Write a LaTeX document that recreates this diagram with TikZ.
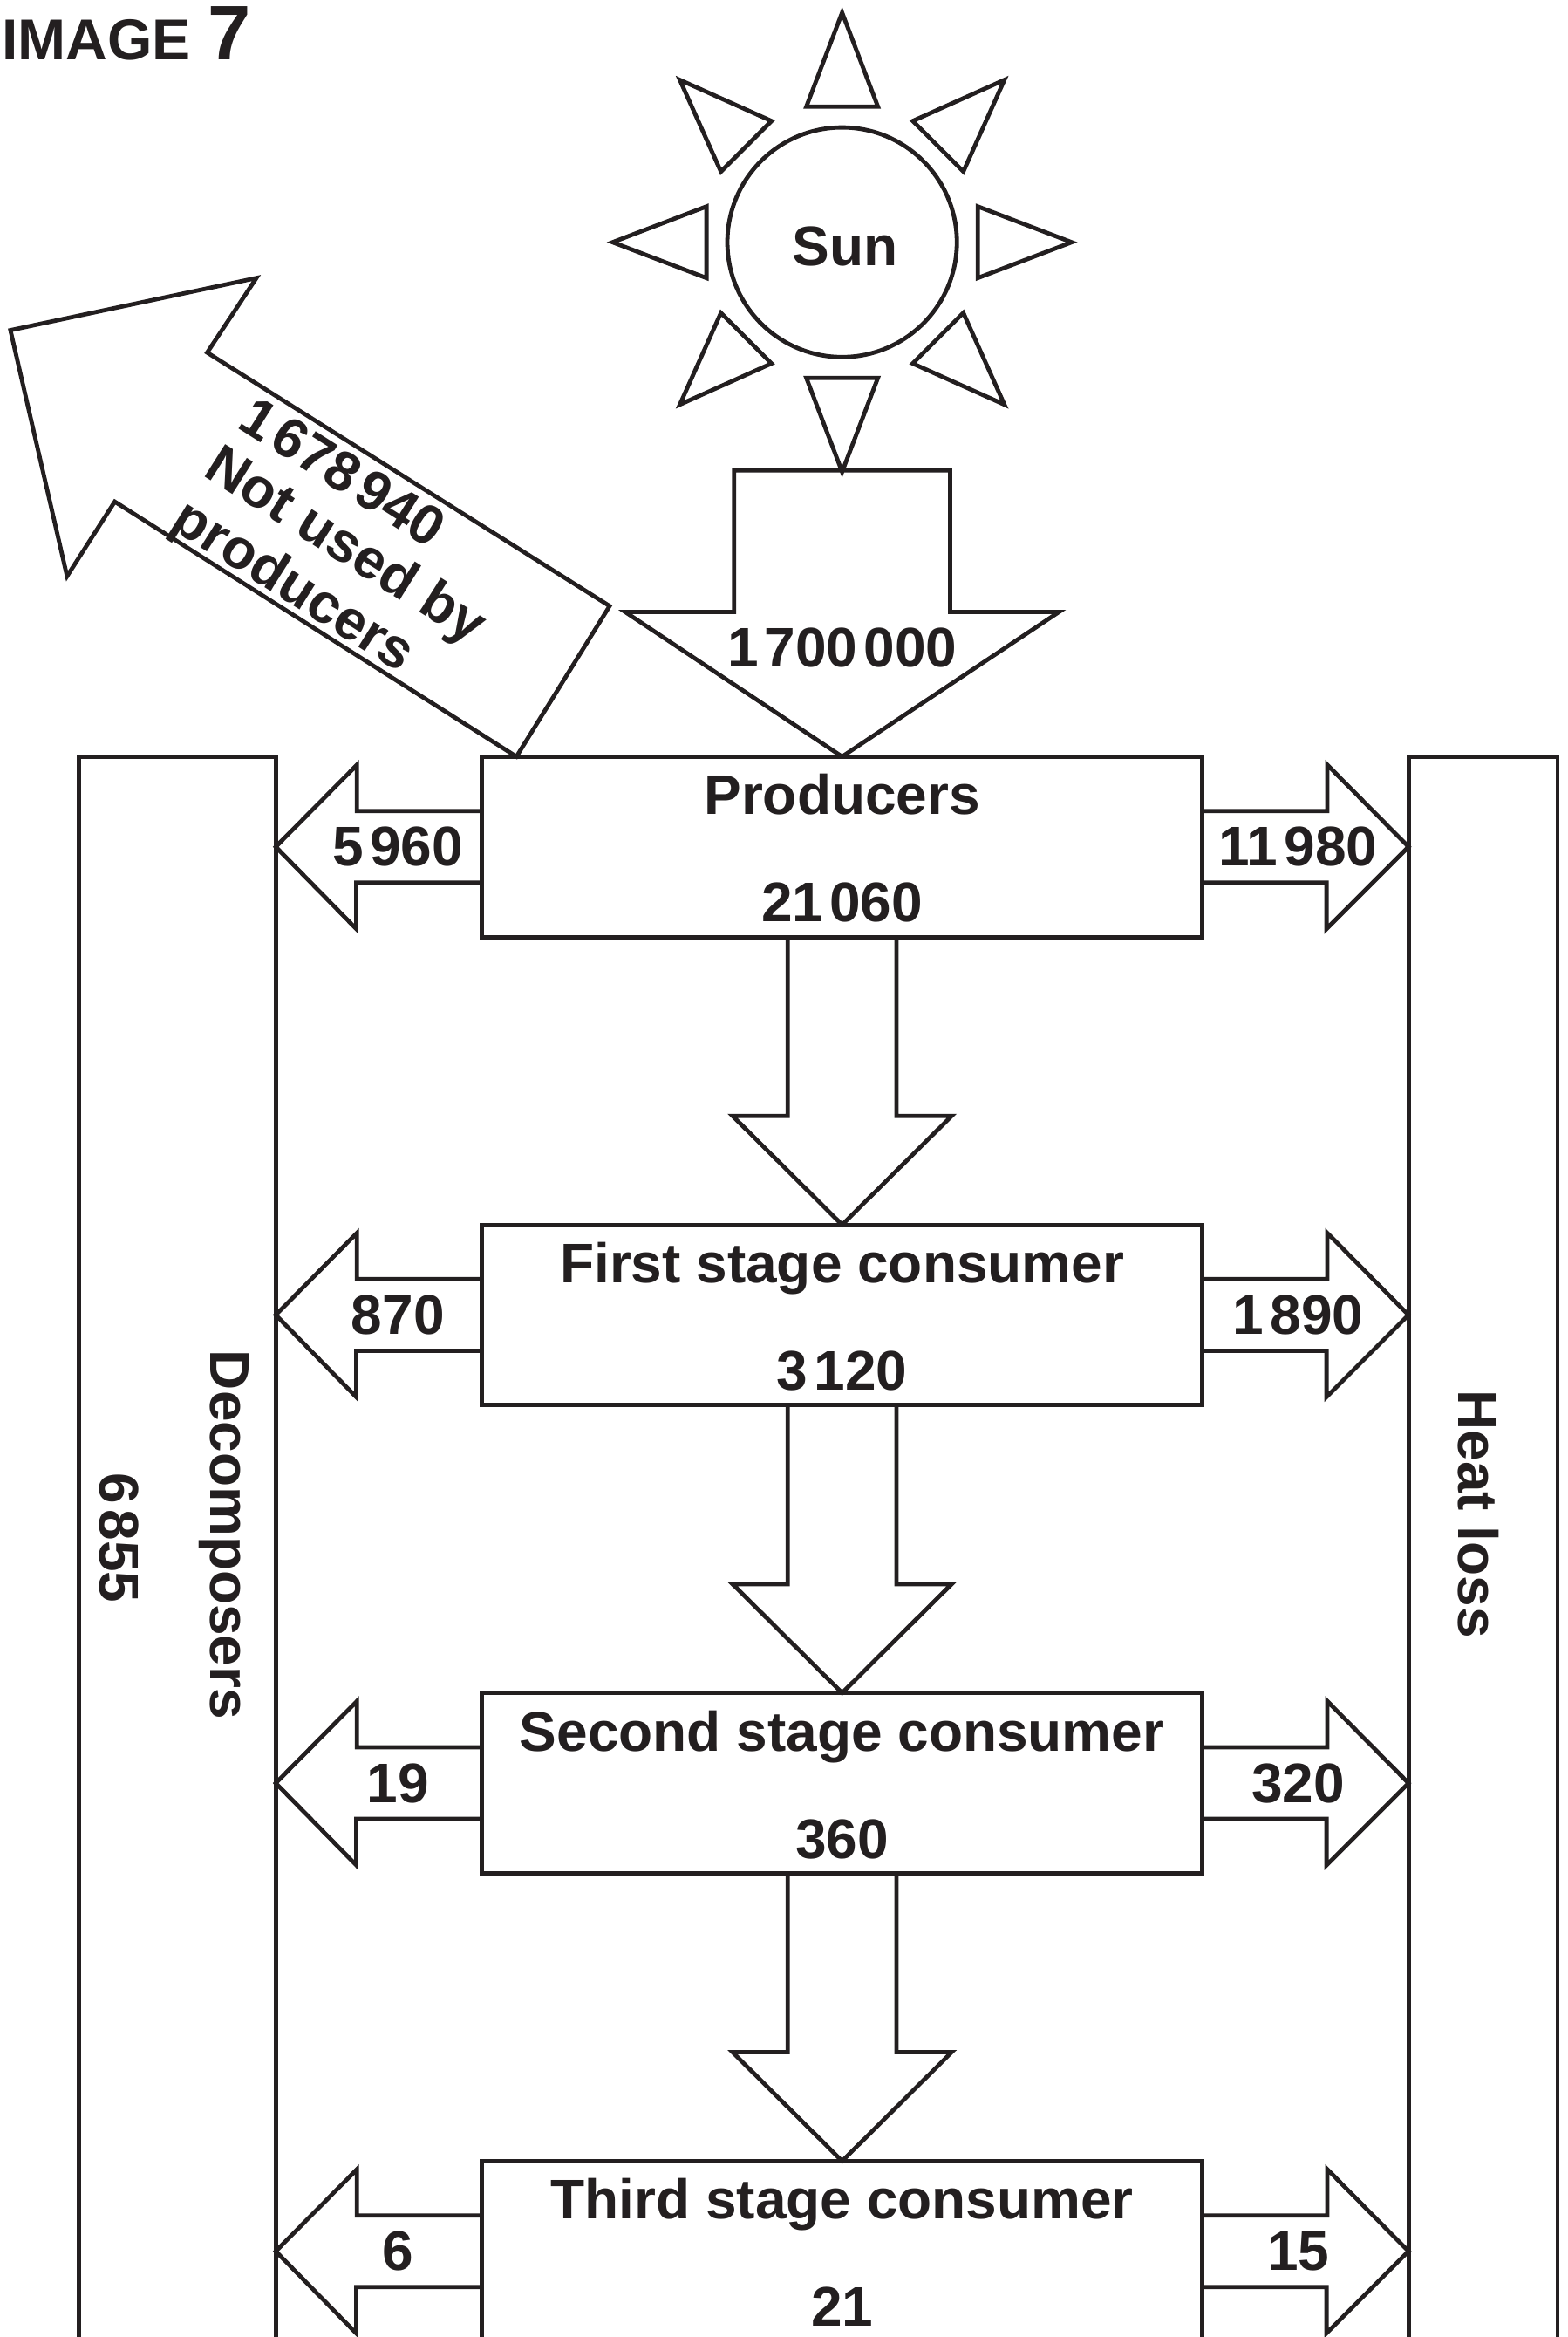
\documentclass[tikz,border=0pt]{standalone}
\usepackage{fontspec}
\setmainfont{Liberation Sans}
\usepackage{xcolor}
\usetikzlibrary{positioning,calc}
\definecolor{inkblack}{RGB}{35,31,32}
\newcommand{\gp}{\hspace{.11em}}

\begin{document}
\begin{tikzpicture}[font=\fontsize{21.3}{41}\selectfont\bfseries,text=inkblack,
  blockline/.style={draw=inkblack,line width=1.6pt},
  stagebox/.style={blockline,minimum width=9.66cm,minimum height=2.42cm,align=center,inner xsep=0pt,inner ysep=-.3cm,outer sep=0pt},
  sidebar/.style={blockline,anchor=north west,minimum height=22cm,inner sep=0pt,outer sep=0pt},
  tilted/.style={rotate=-32.3,inner sep=0pt}]
  \useasboundingbox (0,0) rectangle (21.04,31.35);
  \node[font=\fontsize{22}{26}\selectfont\bfseries,anchor=base west,inner sep=0pt] (imglabel) at (0.02,30.55) {IMAGE};
  \node[font=\fontsize{29.5}{34}\selectfont\bfseries,anchor=base west,inner sep=0pt] (imgnum) at (2.78,30.55) {7};
  % sun
  \node[blockline,circle,minimum size=3.08cm,inner sep=0pt] (sun) at (11.3,28.1) {};
  \node (sunname) at ($(sun.center)+(.04,-.06)$) {Sun};
  \foreach \ang in {0,45,...,315}
    \draw[blockline,shift={(sun.center)},rotate=\ang] (3.08,0) -- (1.82,.48) -- (1.82,-.48) -- cycle;
  % stages
  \node[stagebox] (prod) at (11.3,19.99) {\strut Producers\\\strut 21\gp060};
  \node[stagebox,below=3.86cm of prod] (first) {\strut First stage consumer\\\strut 3\gp120};
  \node[stagebox,below=3.86cm of first] (second) {\strut Second stage consumer\\\strut 360};
  \node[stagebox,below=3.86cm of second] (third) {\strut Third stage consumer\\\strut 21};
  % side bars
  \node[sidebar,minimum width=2.64cm] (decomp) at (1.06,21.2) {};
  \node[sidebar,minimum width=2.0cm] (heat) at (18.9,21.2) {};
  \node[rotate=-90] (decname) at (3.0,10.76) {Decomposers};
  \node[rotate=-90] (decval) at (1.6,10.72) {6\gp855};
  \node[rotate=-90] (heatname) at (19.84,11.04) {Heat loss};
  % arrow from the sun
  \draw[blockline] ($(prod.north)+(-1.45,3.84)$) -- ++(0,-1.9) -- ++(-1.46,0) -- (prod.north)
    -- ($(prod.north)+(2.91,1.94)$) -- ++(-1.46,0) -- ++(0,1.9) -- cycle;
  \node (sunval) at (11.3,22.66) {1\gp700\gp000};
  % not used
  \draw[blockline] ($(prod.north west)+(.46,0)$) -- (1.54,24.62) -- (0.9,23.62) -- (0.14,26.92)
    -- (3.44,27.62) -- (2.78,26.62) -- (8.18,23.22) -- cycle;
  \node[tilted] (lostval) at (4.6,25.02) {1\gp678\gp940};
  \node[tilted] (lostone) at (4.62,24.0) {Not used by};
  \node[tilted] (losttwo) at (3.92,23.46) {producers};
  % flows down
  \foreach \up/\dn in {prod/first,first/second,second/third}
    \draw[blockline] ($(\up.south)+(-.73,0)$) -- ++(0,-2.4) -- ++(-.74,0) -- (\dn.north)
      -- ($(\dn.north)+(1.47,1.46)$) -- ++(-.74,0) -- ($(\up.south)+(.73,0)$);
  % flows to the sides
  \foreach \nm/\lval/\rval in {prod/5\gp960/11\gp980,first/870/1\gp890,second/19/320,third/6/15} {
    \draw[blockline] ($(\nm.west)+(0,.48)$) -- ++(-1.68,0) -- ++(0,.62) -- (decomp.east |- \nm.west)
      -- ++(1.08,-1.1) -- ++(0,.62) -- ++(1.68,0);
    \draw[blockline] ($(\nm.east)+(0,.48)$) -- ++(1.68,0) -- ++(0,.62) -- (heat.west |- \nm.east)
      -- ++(-1.1,-1.1) -- ++(0,.62) -- ++(-1.68,0);
    \node (\nm-lval) at ($(\nm.west)+(-1.13,0)$) {\lval};
    \node (\nm-rval) at ($(\nm.east)+(1.29,0)$) {\rval};
  }
\end{tikzpicture}
\end{document}
